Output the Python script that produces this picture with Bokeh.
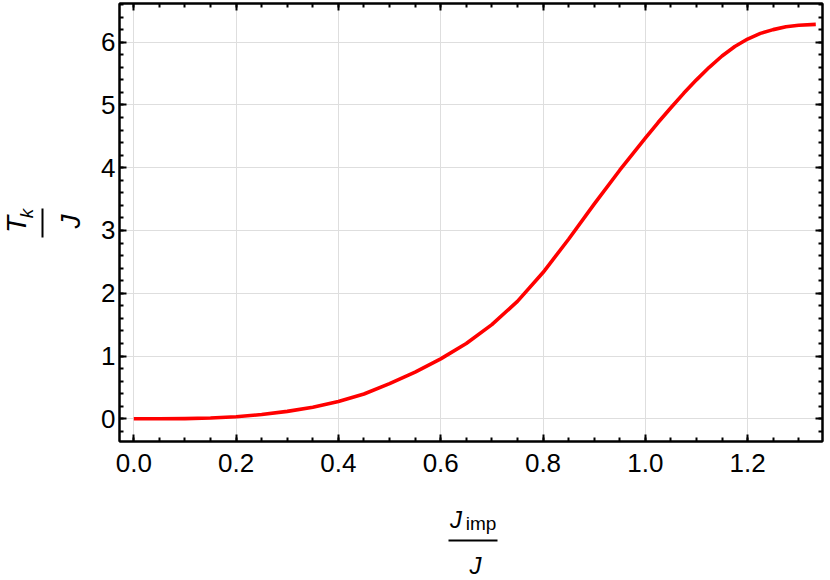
from bokeh.plotting import figure
from bokeh.layouts import column, row
from bokeh.models import (Range1d, LinearAxis, SingleIntervalTicker, PrintfTickFormatter,
                          CustomJSTickFormatter)
from bokeh.core.properties import value
from bokeh.embed import file_html
from bokeh.resources import INLINE
import math

# ---- data ----
j_imp_over_j = [0.00, 0.05, 0.10, 0.15, 0.20, 0.25, 0.30, 0.35, 0.40, 0.45, 0.50,
                0.55, 0.60, 0.65, 0.70, 0.75, 0.80, 0.85, 0.90, 0.95, 1.00, 1.025, 1.05,
                1.075, 1.10, 1.125, 1.15, 1.175, 1.20, 1.225, 1.25, 1.275, 1.30, 1.3333]
tk_over_j = [0.000, 0.000, 0.003, 0.012, 0.033, 0.068, 0.118, 0.185, 0.275, 0.395, 0.560,
             0.745, 0.955, 1.200, 1.500, 1.870, 2.330, 2.860, 3.420, 3.960, 4.470, 4.720, 4.955,
             5.185, 5.400, 5.600, 5.780, 5.930, 6.050, 6.140, 6.200, 6.245, 6.270, 6.283]

x_tick_interval = 0.2
y_tick_interval = 1
x_label_num, x_label_sub, x_label_den = "J", "imp", "J"
y_label_num, y_label_sub, y_label_den = "T", "k", "J"

# ---- layout constants (page pixels) ----
X0PX, XS = 133.3, 511.5      # page x of value 0, pixels per unit
Y0PX, YS = 418.3, 62.77      # page y of value 0, pixels per unit
FRAME_L, FRAME_R, FRAME_T, FRAME_B = 119, 822, 3, 441
LEFT_W = 90                  # width of the y-label strip
TOP_H = 485                  # height of the main row
TOTAL_W, TOTAL_H = 830, 580

def dx(px):
    return (px - X0PX) / XS

def dy(py):
    return (Y0PX - py) / YS

FONT = "Liberation Sans"

main_w = TOTAL_W - LEFT_W
p = figure(width=main_w, height=TOP_H,
           x_range=Range1d(dx(FRAME_L), dx(FRAME_R)),
           y_range=Range1d(dy(FRAME_B), dy(FRAME_T)),
           output_backend="svg", toolbar_location=None,
           min_border_left=FRAME_L - LEFT_W,
           min_border_right=main_w - (FRAME_R - LEFT_W),
           min_border_top=FRAME_T,
           min_border_bottom=TOP_H - FRAME_B)
p.outline_line_color = "black"
p.outline_line_width = 2

xt = SingleIntervalTicker(interval=x_tick_interval, num_minor_ticks=4)
yt = SingleIntervalTicker(interval=y_tick_interval, num_minor_ticks=5)

def style_axis(ax, ticker, show_labels):
    ax.ticker = ticker
    ax.axis_line_color = "black"
    ax.axis_line_width = 2
    ax.major_tick_in = 7
    ax.major_tick_out = 0
    ax.minor_tick_in = 4
    ax.minor_tick_out = 0
    ax.major_tick_line_width = 2
    ax.minor_tick_line_width = 2
    ax.major_tick_line_color = "black"
    ax.minor_tick_line_color = "black"
    if show_labels:
        ax.major_label_text_font = FONT
        ax.major_label_text_font_size = "26px"
        ax.major_label_text_color = "black"
    else:
        # mirror axis: ticks only, no label text
        ax.formatter = CustomJSTickFormatter(code="return ''")
        ax.major_label_text_font_size = "1px"
        ax.major_label_standoff = 0

for ax in p.xaxis:
    style_axis(ax, xt, True)
    ax.formatter = PrintfTickFormatter(format="%.1f")
    ax.major_label_standoff = 12
for ax in p.yaxis:
    style_axis(ax, yt, True)
    ax.formatter = PrintfTickFormatter(format="%d")
    ax.major_label_standoff = 4

top = LinearAxis()
style_axis(top, xt, False)
p.add_layout(top, "above")
right = LinearAxis()
style_axis(right, yt, False)
p.add_layout(right, "right")

p.xgrid.ticker = xt
p.ygrid.ticker = yt
p.xgrid.grid_line_color = "#dedede"
p.ygrid.grid_line_color = "#dedede"

p.line(j_imp_over_j, tk_over_j, line_color="#ff0000", line_width=3.6, line_join="round")


def put(f, x, y, txt, size, italic, angle=0.0):
    f.text(x=[x], y=[y], text=[txt], angle=angle, text_font=value(FONT),
           text_font_style="italic" if italic else "normal", text_font_size=size,
           text_align="center", text_baseline="middle", text_color="black")

def bare(f):
    f.outline_line_color = None
    f.xgrid.visible = False
    f.ygrid.visible = False
    return f

# ---- y label strip (frame aligned with the main frame; y = -page_y) ----
rot = math.pi / 2
yl = bare(figure(width=LEFT_W, height=TOP_H,
                 x_range=Range1d(0, LEFT_W), y_range=Range1d(-FRAME_B, -FRAME_T),
                 output_backend="svg", toolbar_location=None,
                 x_axis_location=None, y_axis_location=None,
                 min_border_left=0, min_border_right=0,
                 min_border_top=FRAME_T, min_border_bottom=TOP_H - FRAME_B))
put(yl, 16, -224, y_label_num, "28px", True, rot)
put(yl, 25.5, -213, y_label_sub, "19px", True, rot)
yl.segment(x0=[42], y0=[-237], x1=[42], y1=[-208], line_width=2, line_color="black")
put(yl, 70, -221, y_label_den, "28px", True, rot)

# ---- x label strip (y = -page_y) ----
XL_H = TOTAL_H - TOP_H
xl = bare(figure(width=TOTAL_W, height=XL_H,
                 x_range=Range1d(0, TOTAL_W), y_range=Range1d(-TOTAL_H, -TOP_H),
                 output_backend="svg", toolbar_location=None,
                 x_axis_location=None, y_axis_location=None,
                 min_border_left=0, min_border_right=0,
                 min_border_top=0, min_border_bottom=0))
put(xl, 455.5, -518.5, x_label_num, "24px", True)
put(xl, 480.5, -522.5, x_label_sub, "19px", False)
xl.segment(x0=[448], y0=[-540], x1=[497], y1=[-540], line_width=2, line_color="black")
put(xl, 475, -564.5, x_label_den, "24px", True)

layout = column(row(yl, p, spacing=0), xl, spacing=0)

open("out.html", "w").write(file_html(layout, INLINE))
